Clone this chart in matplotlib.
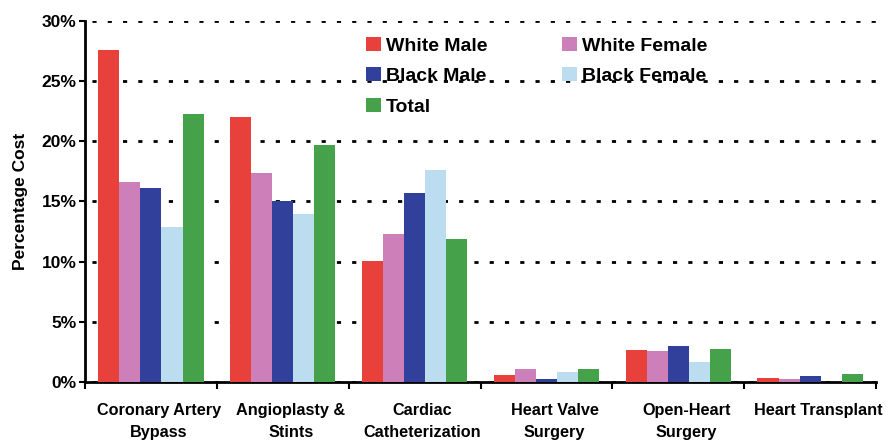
import matplotlib.pyplot as plt
import matplotlib.transforms as mtransforms
import numpy as np

plt.rcParams['font.family'] = ['Liberation Sans', 'DejaVu Sans']
plt.rcParams['font.weight'] = 'bold'
plt.rcParams['axes.labelweight'] = 'bold'

# Share of cost by procedure and group
procedures = ['Coronary Artery\nBypass', 'Angioplasty &\nStints', 'Cardiac\nCatheterization',
              'Heart Valve\nSurgery', 'Open-Heart\nSurgery', 'Heart Transplant']
white_male = [27.6, 22.05, 10.05, 0.55, 2.67, 0.35]
white_female = [16.65, 17.4, 12.3, 1.05, 2.58, 0.25]
black_male = [16.1, 15.0, 15.7, 0.25, 3.0, 0.5]
black_female = [12.9, 14.0, 17.6, 0.85, 1.7, 0.0]
total = [22.25, 19.7, 11.9, 1.05, 2.75, 0.7]

series = [('White Male', white_male, '#e8403a'),
          ('White Female', white_female, '#cc7fb8'),
          ('Black Male', black_male, '#31409a'),
          ('Black Female', black_female, '#bcdcef'),
          ('Total', total, '#46a24a')]

fig = plt.figure(figsize=(8.94, 4.46), dpi=100)
ax = fig.add_axes([0.095, 0.1435, 0.885, 0.8095])

x = np.arange(len(procedures))
width = 0.16
bars = {}
for i, (name, vals, color) in enumerate(series):
    bars[name] = ax.bar(x + (i - 2) * width, vals, width, color=color, label=name, zorder=3)

ax.set_xlim(-0.5, 5.5)
ax.set_ylim(0, 30)
ax.set_yticks(np.arange(0, 31, 5))
ax.set_yticklabels([f'{v}%' for v in range(0, 31, 5)], fontsize=12.5)
ax.set_xticks(x)
ax.set_xticklabels(procedures, fontsize=11.7, linespacing=1.6)
ax.set_xticks(np.arange(-0.5, 6, 1), minor=True)
ax.tick_params(axis='x', which='major', length=0, pad=15)
ax.tick_params(axis='x', which='minor', length=5, width=1.5, direction='out')
ax.tick_params(axis='y', length=4, width=1.5, direction='out', pad=2)

# nudge category labels a little to the right
shift = mtransforms.ScaledTranslation(8 / 100, 0, fig.dpi_scale_trans)
for lbl in ax.get_xticklabels():
    lbl.set_transform(lbl.get_transform() + shift)

for s in ['top', 'right']:
    ax.spines[s].set_visible(False)
for s in ['left', 'bottom']:
    ax.spines[s].set_linewidth(2)

ax.yaxis.grid(True, color='black', linewidth=2, linestyle=(3, (1.5, 4)), zorder=0)
ax.set_axisbelow(True)
ax.set_ylabel('Percentage Cost', fontsize=12.5, labelpad=10)

order = ['White Male', 'Black Male', 'Total', 'White Female', 'Black Female']
ax.legend([bars[n] for n in order], order, ncol=2, loc='upper left',
          bbox_to_anchor=(0.346, 0.978), frameon=False, fontsize=14,
          handlelength=0.75, handleheight=0.75, handletextpad=0.25,
          labelspacing=0.65, columnspacing=3.85, borderaxespad=0)

fig.savefig('out.png', dpi=100)
